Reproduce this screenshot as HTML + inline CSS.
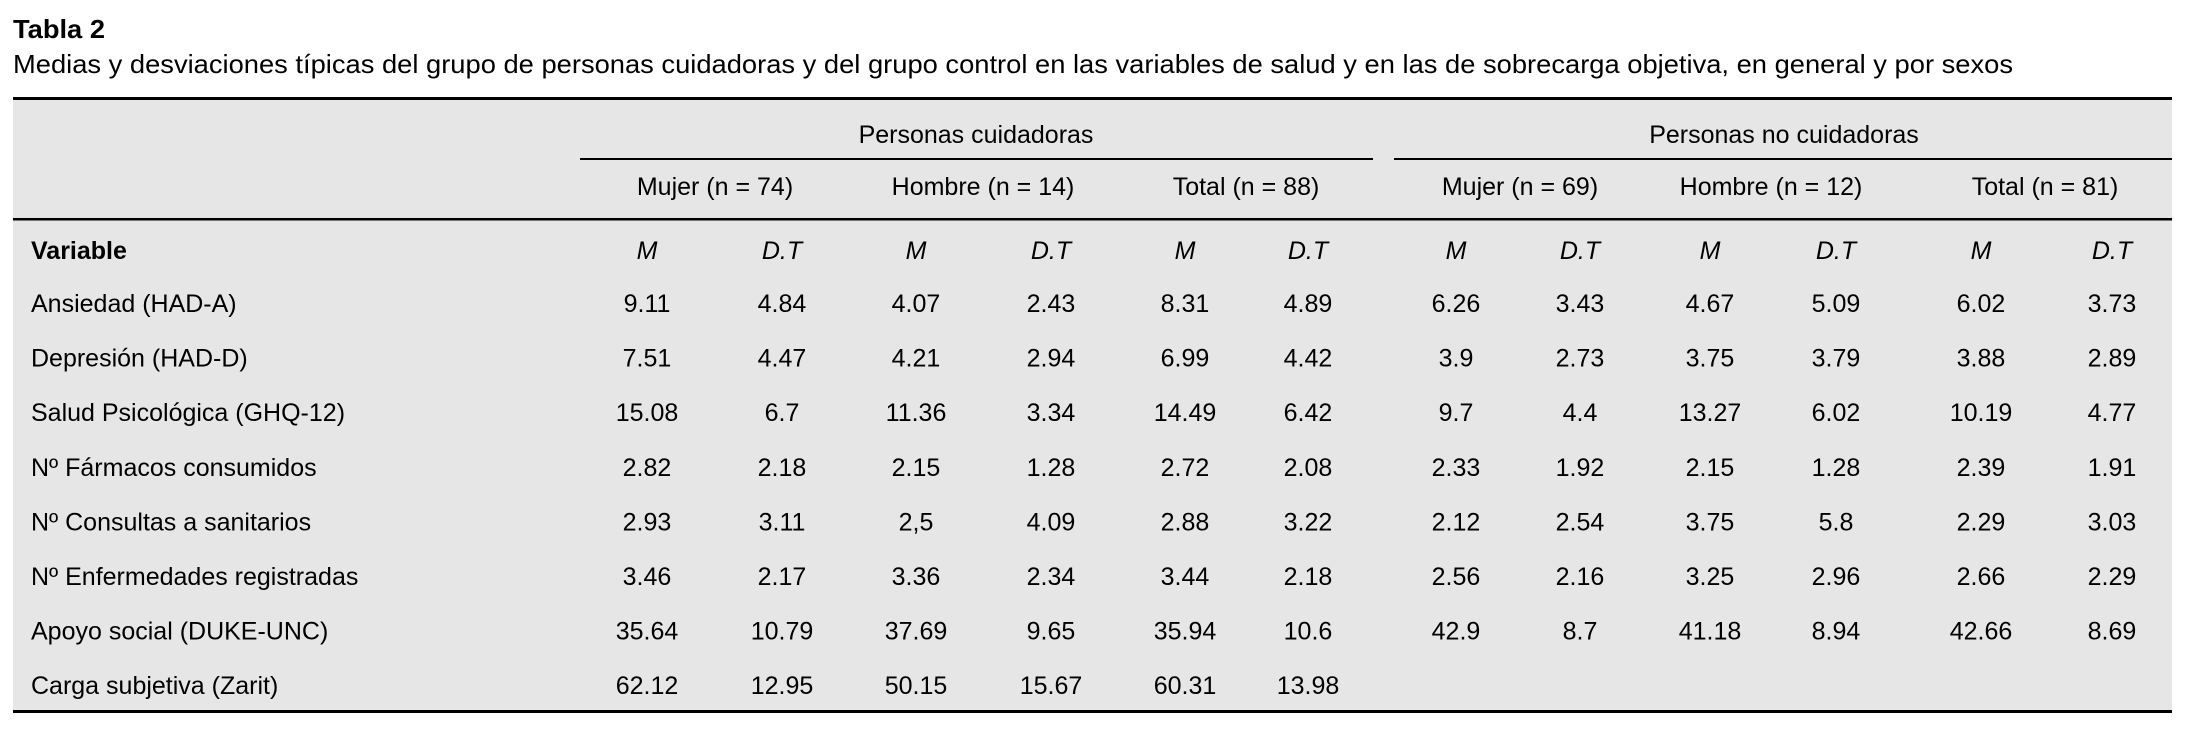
<!DOCTYPE html>
<html><head><meta charset="utf-8"><style>
html,body{margin:0;padding:0;background:#fff;}
svg{display:block;font-family:"Liberation Sans",sans-serif;}
</style></head><body>
<svg id="t" width="2191" height="733" viewBox="0 0 2191 733">
<text x="13" y="38" font-size="26" font-weight="bold" textLength="92" lengthAdjust="spacingAndGlyphs">Tabla 2</text>
<text x="13" y="73" font-size="26" textLength="2000" lengthAdjust="spacingAndGlyphs">Medias y desviaciones típicas del grupo de personas cuidadoras y del grupo control en las variables de salud y en las de sobrecarga objetiva, en general y por sexos</text>
<rect x="13" y="98" width="2159" height="613" fill="#e6e6e6"/>
<rect x="13" y="97" width="2159" height="3" fill="#000"/>
<rect x="580" y="158" width="793" height="2" fill="#000"/>
<rect x="1394" y="158" width="778" height="2" fill="#000"/>
<rect x="13" y="218" width="2159" height="2.5" fill="#000"/>
<rect x="13" y="710" width="2159" height="3" fill="#000"/>
<text x="976" y="143" font-size="25" text-anchor="middle">Personas cuidadoras</text>
<text x="1784" y="143" font-size="25" text-anchor="middle">Personas no cuidadoras</text>
<text x="31" y="259" font-size="25" font-weight="bold">Variable</text>
<g id="body"></g>
</svg>
<script>
const subheads=["Mujer (n = 74)","Hombre (n = 14)","Total (n = 88)","Mujer (n = 69)","Hombre (n = 12)","Total (n = 81)"];
const variables=["Ansiedad (HAD-A)","Depresión (HAD-D)","Salud Psicológica (GHQ-12)","Nº Fármacos consumidos","Nº Consultas a sanitarios","Nº Enfermedades registradas","Apoyo social (DUKE-UNC)","Carga subjetiva (Zarit)"];
const row1=["9.11","4.84","4.07","2.43","8.31","4.89","6.26","3.43","4.67","5.09","6.02","3.73"];
const row2=["7.51","4.47","4.21","2.94","6.99","4.42","3.9","2.73","3.75","3.79","3.88","2.89"];
const row3=["15.08","6.7","11.36","3.34","14.49","6.42","9.7","4.4","13.27","6.02","10.19","4.77"];
const row4=["2.82","2.18","2.15","1.28","2.72","2.08","2.33","1.92","2.15","1.28","2.39","1.91"];
const row5=["2.93","3.11","2,5","4.09","2.88","3.22","2.12","2.54","3.75","5.8","2.29","3.03"];
const row6=["3.46","2.17","3.36","2.34","3.44","2.18","2.56","2.16","3.25","2.96","2.66","2.29"];
const row7=["35.64","10.79","37.69","9.65","35.94","10.6","42.9","8.7","41.18","8.94","42.66","8.69"];
const row8=["62.12","12.95","50.15","15.67","60.31","13.98","","","","","",""];
const rows=[row1,row2,row3,row4,row5,row6,row7,row8];
const colX=[647,782,916,1051,1185,1308,1456,1580,1710,1836,1981,2112];
const subX=[715,983,1246,1520,1771,2045];
const g=document.getElementById('body');
const NS='http://www.w3.org/2000/svg';
function txt(x,y,s,anchor,extra){const t=document.createElementNS(NS,'text');t.setAttribute('x',x);t.setAttribute('y',y);t.setAttribute('font-size','25');t.setAttribute('text-anchor',anchor);if(extra)t.setAttribute('font-style',extra);t.textContent=s;g.appendChild(t);return t;}
subheads.forEach((s,i)=>{const t=txt(subX[i],195,s,'middle');

});
colX.forEach((x,i)=>{const t=txt(x,259,i%2?'D.T':'M','middle','italic');

});
variables.forEach((v,r)=>{const y=312+r*54.6;
const l=txt(31,y,v,'start');


rows[r].forEach((val,c)=>{if(!val)return;const t=txt(colX[c],y,val,'middle');

});});
</script>
</body></html>
